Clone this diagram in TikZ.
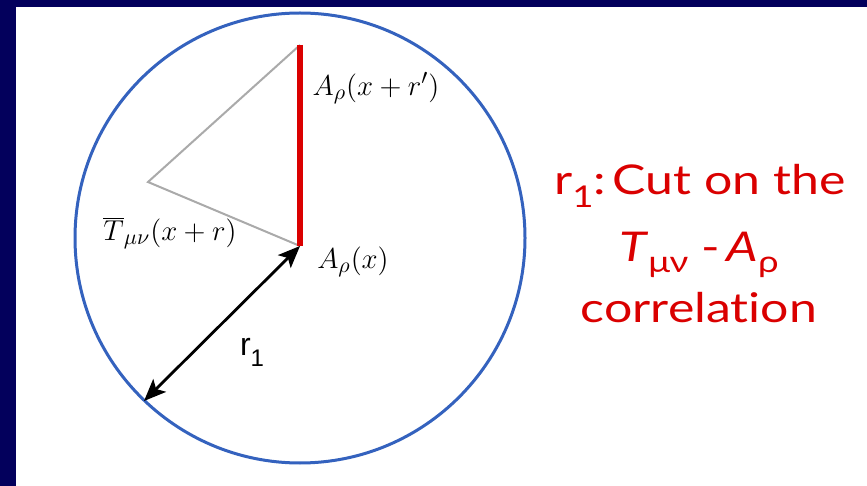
\documentclass[tikz,border=0pt]{standalone}
\usepackage{fontspec}
\newfontfamily\capfont[FakeStretch=1.22,Ligatures=NoCommon]{Lato}
\newfontfamily\lblfont{Liberation Sans}
\usetikzlibrary{arrows.meta}
\definecolor{slideNavy}{RGB}{3,0,92}
\definecolor{ringBlue}{RGB}{52,98,190}
\definecolor{cutRed}{RGB}{218,0,0}
\definecolor{legGrey}{RGB}{170,170,170}

\begin{document}
\begin{tikzpicture}[x=0.5pt,y=-0.5pt,
    mathlbl/.style={font=\fontsize{15.5}{18}\selectfont,inner sep=0pt},
    capline/.style={font=\capfont\fontsize{20.5}{24}\selectfont,text=cutRed,
                    anchor=base,inner sep=0pt},
    leg/.style={legGrey,line width=1pt},
    radiusarrow/.style={line width=1.4pt,
      {Stealth[length=11pt,width=9pt,inset=2.5pt]}-{Stealth[length=11pt,width=9pt,inset=2.5pt]}}]

    % slide frame
    \fill[slideNavy] (0,0) rectangle (867,486);
    \fill[white] (16,7) rectangle (867,486);
    \useasboundingbox (0,0) rectangle (867,486);

    % points of the correlator
    \coordinate (ctr)  at (300,238);
    \coordinate (top)  at (300,45);
    \coordinate (bot)  at (300,246);
    \coordinate (apex) at (148,182);
    \coordinate (rim)  at (144,401);

    % cut circle
    \draw[ringBlue,line width=1.5pt] (ctr) circle[radius=112.5pt];

    % legs, red separation and radius
    \draw[leg] (top) -- (apex) -- (bot);
    \draw[cutRed,line width=3pt] (top) -- (bot);
    \draw[radiusarrow] (bot) -- (rim);

    % labels at the points
    \node[mathlbl] (Atop) at (376,88)  {$A_\rho(x+r')$};
    \node[mathlbl] (Abot) at (353,262) {$A_\rho(x)$};
    \node[mathlbl] (Tbar) at (170,233) {$\overline{T}_{\mu\nu}(x+r)$};
    \node[font=\lblfont\fontsize{16}{18}\selectfont,inner sep=0pt] (rone) at (252,352)
      {r\raisebox{-0.35em}{\fontsize{12}{12}\selectfont 1}};

    % caption
    \node[capline] (cap1) at (700,195)
      {r\raisebox{-0.3em}{\fontsize{15}{15}\selectfont 1}:\,Cut on the};
    \node[capline] (cap2) at (699,262)
      {\textit{T}\raisebox{-0.25em}{\fontsize{15}{15}\selectfont μν} -\,\textit{A}\raisebox{-0.25em}{\fontsize{15}{15}\selectfont ρ}};
    \node[capline] (cap3) at (699,322) {correlation};
\end{tikzpicture}
\end{document}
